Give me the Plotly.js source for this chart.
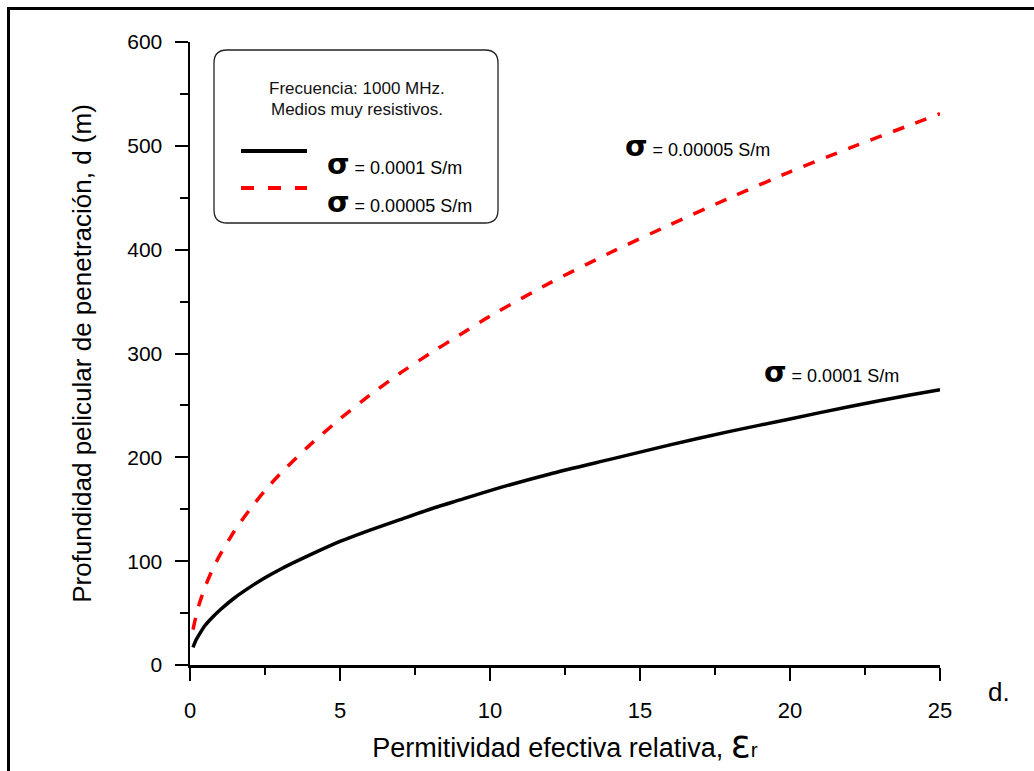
<!DOCTYPE html>
<html>
<head>
<meta charset="utf-8">
<script src="https://cdn.plot.ly/plotly-3.0.1.min.js"></script>
<style>
  html, body { margin: 0; padding: 0; background: #fff; }
  #chart { width: 1034px; height: 771px; }
</style>
</head>
<body>
<div id="chart"></div>
<script>
// Relative effective permittivity (x) and skin depth in metres (y), 1000 MHz
const permittivity = [0.1, 0.2, 0.3, 0.5, 0.75, 1, 1.5, 2, 2.5, 3, 4, 5, 6, 7, 8, 9, 10, 12, 14, 16, 18, 20, 22, 24, 25];
const depthSigma1e4 = [17, 24, 29, 38, 46, 53, 65, 75, 84, 92, 106, 119, 130, 140, 150, 159, 168, 184, 198, 212, 225, 237, 249, 260, 265];
const depthSigma5e5 = [34, 47, 58, 75, 92, 106, 130, 150, 168, 184, 212, 237, 260, 281, 300, 318, 336, 368, 397, 424, 450, 475, 498, 520, 531];

const seriesNames = ['σ = 0.0001 S/m', 'σ = 0.00005 S/m'];
const xTickVals = [0, 5, 10, 15, 20, 25];
const yTickVals = [0, 100, 200, 300, 400, 500, 600];

// Plot-area edges in pixels, used to place the legend box and frame
const W = 1034, H = 771;
const PL = 190, PR = 940, PT = 42, PB = 665;
const fx = px => (px - PL) / (PR - PL);
const fy = py => (PB - py) / (PB - PT);

const FONT = 'Liberation Sans, Arial, sans-serif';
const SIGMA = (txt) => "<span style='font-family:DejaVu Sans, sans-serif;font-size:29px'><b>σ</b></span> " + txt;

const traces = [
  {
    x: permittivity, y: depthSigma1e4, name: seriesNames[0],
    type: 'scatter', mode: 'lines',
    line: { color: '#000000', width: 3.5, shape: 'spline', smoothing: 0.6 },
    showlegend: false, hoverinfo: 'x+y'
  },
  {
    x: permittivity, y: depthSigma5e5, name: seriesNames[1],
    type: 'scatter', mode: 'lines',
    line: { color: '#ff0000', width: 3.5, dash: '12px,12px', shape: 'spline', smoothing: 0.6 },
    showlegend: false, hoverinfo: 'x+y'
  }
];

// Rounded legend box drawn in paper coordinates
function roundedBox(x0, y0, x1, y1, r) {
  const p = (x, y) => fx(x) + ',' + fy(y);
  return 'M ' + p(x0 + r, y0) + ' L ' + p(x1 - r, y0) + ' Q ' + p(x1, y0) + ' ' + p(x1, y0 + r) +
         ' L ' + p(x1, y1 - r) + ' Q ' + p(x1, y1) + ' ' + p(x1 - r, y1) +
         ' L ' + p(x0 + r, y1) + ' Q ' + p(x0, y1) + ' ' + p(x0, y1 - r) +
         ' L ' + p(x0, y0 + r) + ' Q ' + p(x0, y0) + ' ' + p(x0 + r, y0) + ' Z';
}

const shapes = [
  // outer frame (top and left edges)
  { type: 'line', xref: 'paper', yref: 'paper', x0: fx(8.5), y0: fy(H), x1: fx(8.5), y1: fy(8.5), line: { color: '#000', width: 3 } },
  { type: 'line', xref: 'paper', yref: 'paper', x0: fx(7), y0: fy(8.5), x1: fx(W), y1: fy(8.5), line: { color: '#000', width: 3 } },
  // legend box
  { type: 'path', xref: 'paper', yref: 'paper', path: roundedBox(214, 50, 498, 223, 13), line: { color: '#222', width: 1.3 }, fillcolor: 'rgba(255,255,255,1)' },
  // legend samples
  { type: 'line', xref: 'paper', yref: 'paper', x0: fx(241), y0: fy(151), x1: fx(307), y1: fy(151), line: { color: '#000', width: 4 } },
  { type: 'line', xref: 'paper', yref: 'paper', x0: fx(241), y0: fy(188), x1: fx(307), y1: fy(188), line: { color: '#ff0000', width: 4, dash: '13px,14px' } }
];

const annotations = [
  { xref: 'paper', yref: 'paper', x: fx(357), y: fy(88), text: 'Frecuencia: 1000 MHz.', showarrow: false, xanchor: 'center', yanchor: 'middle', font: { family: FONT, size: 17, color: '#111' } },
  { xref: 'paper', yref: 'paper', x: fx(357), y: fy(110), text: 'Medios muy resistivos.', showarrow: false, xanchor: 'center', yanchor: 'middle', font: { family: FONT, size: 17, color: '#111' } },
  { xref: 'paper', yref: 'paper', x: fx(325), y: fy(164), text: SIGMA('= 0.0001 S/m'), showarrow: false, xanchor: 'left', yanchor: 'middle', font: { family: FONT, size: 18, color: '#000' } },
  { xref: 'paper', yref: 'paper', x: fx(325), y: fy(202), text: SIGMA('= 0.00005 S/m'), showarrow: false, xanchor: 'left', yanchor: 'middle', font: { family: FONT, size: 18, color: '#000' } },
  // curve labels
  { xref: 'paper', yref: 'paper', x: fx(623), y: fy(146), text: SIGMA('= 0.00005 S/m'), showarrow: false, xanchor: 'left', yanchor: 'middle', font: { family: FONT, size: 18, color: '#000' } },
  { xref: 'paper', yref: 'paper', x: fx(762), y: fy(372), text: SIGMA('= 0.0001 S/m'), showarrow: false, xanchor: 'left', yanchor: 'middle', font: { family: FONT, size: 18, color: '#000' } },
  // figure tag
  { xref: 'paper', yref: 'paper', x: fx(986), y: fy(692), text: 'd.', showarrow: false, xanchor: 'left', yanchor: 'middle', font: { family: FONT, size: 26, color: '#000' } }
];

const layout = {
  width: W, height: H,
  margin: { l: PL, r: W - PR, t: PT, b: H - PB, pad: 0 },
  paper_bgcolor: '#ffffff', plot_bgcolor: '#ffffff',
  font: { family: FONT, color: '#000' },
  showlegend: false,
  xaxis: {
    range: [0, 25], tickvals: xTickVals, ticktext: xTickVals.map(String),
    showline: true, linecolor: '#000', linewidth: 2.5, mirror: false,
    ticks: 'outside', ticklen: 13, tickwidth: 2, tickcolor: '#000',
    minor: { dtick: 2.5, tick0: 0, ticks: 'outside', ticklen: 7, tickwidth: 2, tickcolor: '#000', showgrid: false },
    showgrid: false, zeroline: false,
    tickfont: { family: FONT, size: 22, color: '#000' },
    ticklabelstandoff: 11,
    title: {
      text: "Permitividad efectiva relativa, <span style='font-family:DejaVu Sans, sans-serif;font-size:37px'>ε</span><span style='font-size:21px'>r</span>",
      font: { family: FONT, size: 27, color: '#000' }, standoff: 0
    },
    automargin: false, fixedrange: true
  },
  yaxis: {
    range: [0, 600], tickvals: yTickVals, ticktext: yTickVals.map(String),
    showline: true, linecolor: '#000', linewidth: 2.5, mirror: false,
    ticks: 'outside', ticklen: 13, tickwidth: 2, tickcolor: '#000',
    minor: { dtick: 50, tick0: 0, ticks: 'outside', ticklen: 8, tickwidth: 2, tickcolor: '#000', showgrid: false },
    showgrid: false, zeroline: false,
    tickfont: { family: FONT, size: 21, color: '#000' },
    ticklabelstandoff: 8,
    title: { text: 'Profundidad pelicular de penetración, d (m)', font: { family: FONT, size: 26, color: '#000' }, standoff: 28 },
    automargin: false, fixedrange: true
  },
  shapes: shapes,
  annotations: annotations
};

Plotly.newPlot('chart', traces, layout, { displayModeBar: false, staticPlot: true });
</script>
</body>
</html>
